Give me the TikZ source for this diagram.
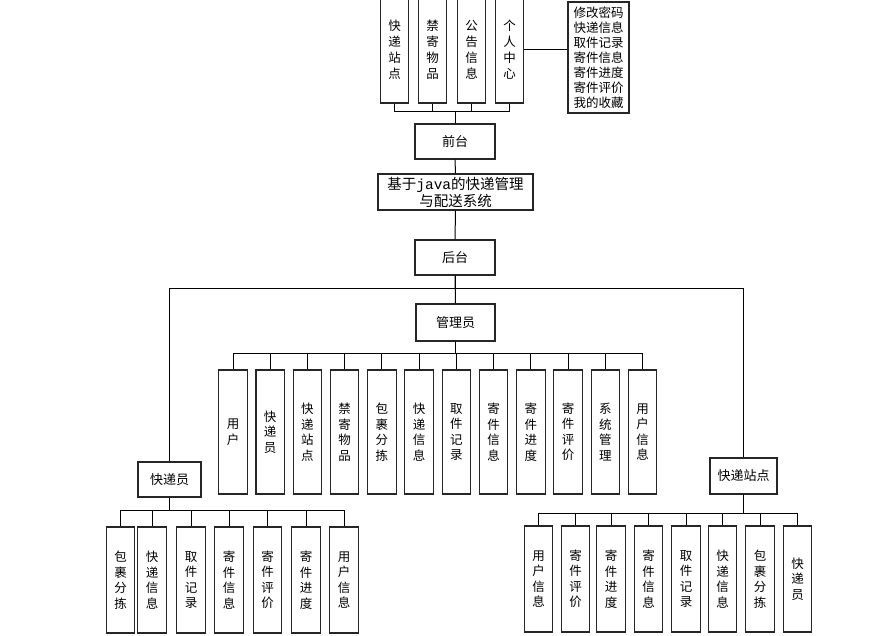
\documentclass[tikz,border=0pt]{standalone}
\usepackage{fontspec}
\newfontfamily\cjk{Noto Sans CJK SC}
\newfontfamily\monof{Liberation Mono}
\begin{document}
\begin{tikzpicture}[x=1pt,y=-1pt,
  box/.style={draw=black!85,line width=1.1pt,inner sep=0pt,align=center,font=\cjk\fontsize{13}{16}\selectfont},
  vbox/.style={box,minimum width=28.5pt,font=\cjk\fontsize{12.5}{15.5}\selectfont},
  conn/.style={draw=black,line width=1pt}]
\useasboundingbox[fill=white] (0,0) rectangle (884,636);
% top
\node[vbox,minimum height=106pt,font=\cjk\fontsize{12.5}{16}\selectfont] (t1) at (394.5,50) {快\\递\\站\\点};
\node[vbox,minimum height=106pt,font=\cjk\fontsize{12.5}{16}\selectfont] (t2) at (432.5,50) {禁\\寄\\物\\品};
\node[vbox,minimum height=106pt,font=\cjk\fontsize{12.5}{16}\selectfont] (t3) at (471.5,50) {公\\告\\信\\息};
\node[vbox,minimum height=106pt,font=\cjk\fontsize{12.5}{16}\selectfont] (t4) at (509.5,50) {个\\人\\中\\心};
\node[box,minimum width=61pt,minimum height=111pt,font=\cjk\fontsize{12.5}{15}\selectfont] (lst) at (598.5,57.5) {修改密码\\快递信息\\取件记录\\寄件信息\\寄件进度\\寄件评价\\我的收藏};
\node[box,minimum width=80pt,minimum height=35pt] (qt) at (455,141.5) {前台};
\node[box,minimum width=155pt,minimum height=36pt,font=\cjk\fontsize{14.5}{17}\selectfont] (title) at (455.5,192) {基于{\monof java}的快递管理\\与配送系统};
\node[box,minimum width=80pt,minimum height=35pt] (ht) at (455,257.5) {后台};
\node[box,minimum width=79pt,minimum height=37pt] (gly) at (455.5,322.5) {管理员};
\node[box,minimum width=63pt,minimum height=35pt] (kdy) at (169.5,479.5) {快递员};
\node[box,minimum width=67pt,minimum height=36pt] (kdzd) at (743.5,476) {快递站点};
% admin children
\foreach \i/\t in {0/{用\\户},1/{快\\递\\员},2/{快\\递\\站\\点},3/{禁\\寄\\物\\品},4/{包\\裹\\分\\拣},5/{快\\递\\信\\息},6/{取\\件\\记\\录},7/{寄\\件\\信\\息},8/{寄\\件\\进\\度},9/{寄\\件\\评\\价},10/{系\\统\\管\\理},11/{用\\户\\信\\息}}{
  \node[vbox,minimum height=124pt] (a\i) at (233+37.23*\i,432) {\t};
  \draw[conn] (gly.south) -- ++(0,12) -| (a\i.north);
}
% courier children
\foreach \i/\x/\t in {0/120.5/{包\\裹\\分\\拣},1/152/{快\\递\\信\\息},2/191/{取\\件\\记\\录},3/229/{寄\\件\\信\\息},4/267.5/{寄\\件\\评\\价},5/306/{寄\\件\\进\\度},6/344/{用\\户\\信\\息}}{
  \node[vbox,minimum height=106pt] (l\i) at (\x,580) {\t};
  \draw[conn] (kdy.south) -- ++(0,13) -| (l\i.north);
}
% station children
\foreach \i/\x/\t in {0/538.5/{用\\户\\信\\息},1/575.5/{寄\\件\\评\\价},2/611/{寄\\件\\进\\度},3/648.5/{寄\\件\\信\\息},4/686/{取\\件\\记\\录},5/722.5/{快\\递\\信\\息},6/760/{包\\裹\\分\\拣},7/797.5/{快\\递\\员}}{
  \node[vbox,minimum height=106pt] (r\i) at (\x,579) {\t};
  \draw[conn] (kdzd.south) -- ++(0,19) -| (r\i.north);
}
% top connections
\foreach \n in {t1,t2,t3,t4}{
  \draw[conn] (qt.north) -- ++(0,-12) -| (\n.south);
}
\draw[conn] (t4.east) -- (t4.east -| lst.west);
\draw[conn] (qt) -- (title);
\draw[conn] (title) -- (ht);
\draw[conn] (ht) -- (gly);
\draw[conn] (ht.south) -- ++(0,13) -| (kdy.north);
\draw[conn] (ht.south) -- ++(0,13) -| (kdzd.north);
\end{tikzpicture}
\end{document}
